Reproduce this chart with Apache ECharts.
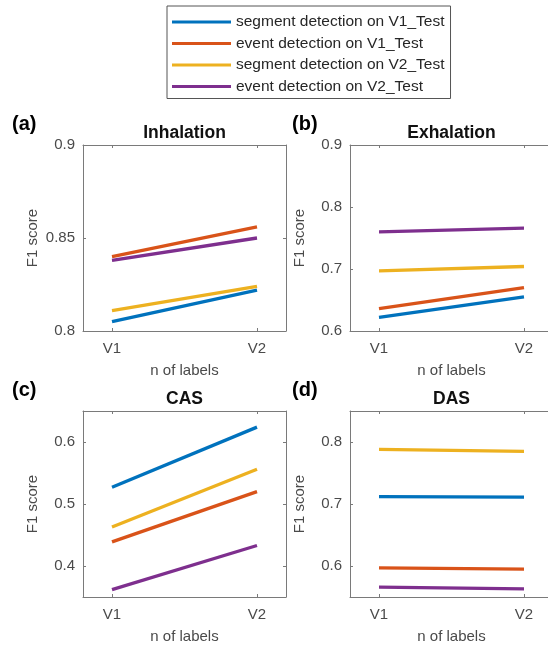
<!DOCTYPE html>
<html>
<head>
<meta charset="utf-8">
<script src="https://cdn.jsdelivr.net/npm/echarts@6/dist/echarts.min.js"></script>
<style>
html,body{margin:0;padding:0;background:#fff;}
#chart{width:548px;height:648px;}
</style>
</head>
<body>
<div id="chart"></div>
<script>
// ---- data ----
const categories = ['V1', 'V2'];
const panelTitles = ['Inhalation', 'Exhalation', 'CAS', 'DAS'];
const panelLabels = ['(a)', '(b)', '(c)', '(d)'];
const seriesNames = [
  'segment detection on V1_Test',
  'event detection on V1_Test',
  'segment detection on V2_Test',
  'event detection on V2_Test'
];
// values per panel: [Inhalation, Exhalation, CAS, DAS], each [V1, V2]
const segV1Test = [[0.805, 0.822], [0.622, 0.655], [0.527, 0.624], [0.712, 0.711]];
const evtV1Test = [[0.840, 0.856], [0.636, 0.670], [0.439, 0.520], [0.597, 0.595]];
const segV2Test = [[0.811, 0.824], [0.697, 0.704], [0.463, 0.556], [0.788, 0.785]];
const evtV2Test = [[0.838, 0.850], [0.760, 0.766], [0.362, 0.433], [0.566, 0.563]];
// y-axis limits and ticks per panel
const yMins = [0.8, 0.6, 0.35, 0.55];
const yMaxs = [0.9, 0.9, 0.65, 0.85];
const yTicks = [[0.8, 0.85, 0.9], [0.6, 0.7, 0.8, 0.9], [0.4, 0.5, 0.6], [0.6, 0.7, 0.8]];
const xTicks = [1, 2];

// ---- styling / layout ----
const FONT = "'Liberation Sans', Arial, Helvetica, sans-serif";
const colors = ['#0072BD', '#D95319', '#EDB120', '#7E2F8E'];
const axisColor = '#7a7a7a';
const labelColor = '#4a4a4a';
const grids = [
  { left: 83, top: 145, width: 203, height: 186 },
  { left: 350, top: 145, width: 203, height: 186 },
  { left: 83, top: 411, width: 203, height: 186 },
  { left: 350, top: 411, width: 203, height: 186 }
];
const allSeries = [segV1Test, evtV1Test, segV2Test, evtV2Test];

const xAxes = [], yAxes = [], series = [], graphics = [];
grids.forEach((g, p) => {
  const base = {
    gridIndex: p, type: 'value', min: 0.8, max: 2.2,
    axisLine: { show: true, onZero: false, lineStyle: { color: axisColor, width: 1 } },
    splitLine: { show: false }
  };
  xAxes.push(Object.assign({}, base, {
    position: 'bottom',
    name: 'n of labels', nameLocation: 'middle', nameGap: 32,
    nameTextStyle: { fontFamily: FONT, fontSize: 15, color: labelColor },
    axisTick: { show: true, inside: true, length: 3, customValues: xTicks, lineStyle: { color: axisColor } },
    axisLabel: { show: true, margin: 10, customValues: xTicks, fontFamily: FONT, fontSize: 15, color: labelColor,
      formatter: v => categories[Math.round(v) - 1] }
  }));
  xAxes.push(Object.assign({}, base, {
    position: 'top',
    axisTick: { show: true, inside: true, length: 3, customValues: xTicks, lineStyle: { color: axisColor } },
    axisLabel: { show: false }
  }));
  const ybase = {
    gridIndex: p, type: 'value', min: yMins[p], max: yMaxs[p],
    axisLine: { show: true, onZero: false, lineStyle: { color: axisColor, width: 1 } },
    splitLine: { show: false }
  };
  yAxes.push(Object.assign({}, ybase, {
    position: 'left',
    name: 'F1 score', nameLocation: 'middle', nameGap: 43,
    nameTextStyle: { fontFamily: FONT, fontSize: 15, color: labelColor },
    axisTick: { show: true, inside: true, length: 3, customValues: yTicks[p], lineStyle: { color: axisColor } },
    axisLabel: { show: true, margin: 8, customValues: yTicks[p], fontFamily: FONT, fontSize: 15, color: labelColor }
  }));
  yAxes.push(Object.assign({}, ybase, {
    position: 'right',
    axisTick: { show: true, inside: true, length: 3, customValues: yTicks[p], lineStyle: { color: axisColor } },
    axisLabel: { show: false }
  }));
  allSeries.forEach((arr, s) => {
    series.push({
      name: seriesNames[s], type: 'line',
      xAxisIndex: 2 * p, yAxisIndex: 2 * p,
      data: arr[p].map((v, i) => [i + 1, v]),
      showSymbol: false, symbol: 'none',
      lineStyle: { width: 3.3, color: colors[s] },
      itemStyle: { color: colors[s] },
      z: 2 + s
    });
  });
  graphics.push({
    type: 'text', x: g.left + g.width / 2, y: g.top - 12,
    style: { text: panelTitles[p], fontFamily: FONT, fontSize: 17.5, fontWeight: 'bold', fill: '#111',
      textAlign: 'center', textVerticalAlign: 'middle' }
  });
  graphics.push({
    type: 'text', x: p % 2 === 0 ? 12 : 292, y: g.top - 21,
    style: { text: panelLabels[p], fontFamily: FONT, fontSize: 20, fontWeight: 'bold', fill: '#000',
      textAlign: 'left', textVerticalAlign: 'middle' }
  });
});

const chart = echarts.init(document.getElementById('chart'), null, { renderer: 'canvas' });
chart.setOption({
  animation: false,
  backgroundColor: '#fff',
  color: colors,
  grid: grids.map(g => Object.assign({ containLabel: false, outerBoundsMode: 'none' }, g)),
  xAxis: xAxes,
  yAxis: yAxes,
  series: series,
  legend: {
    data: seriesNames,
    orient: 'vertical',
    left: 167, top: 6,
    icon: 'rect',
    itemWidth: 59, itemHeight: 3,
    itemGap: 5.5,
    padding: [8, 6, 4, 5],
    borderColor: '#555', borderWidth: 1,
    backgroundColor: '#fff',
    textStyle: { fontFamily: FONT, fontSize: 15.5, color: '#262626', lineHeight: 16 }
  },
  graphic: graphics
});
</script>
</body>
</html>
